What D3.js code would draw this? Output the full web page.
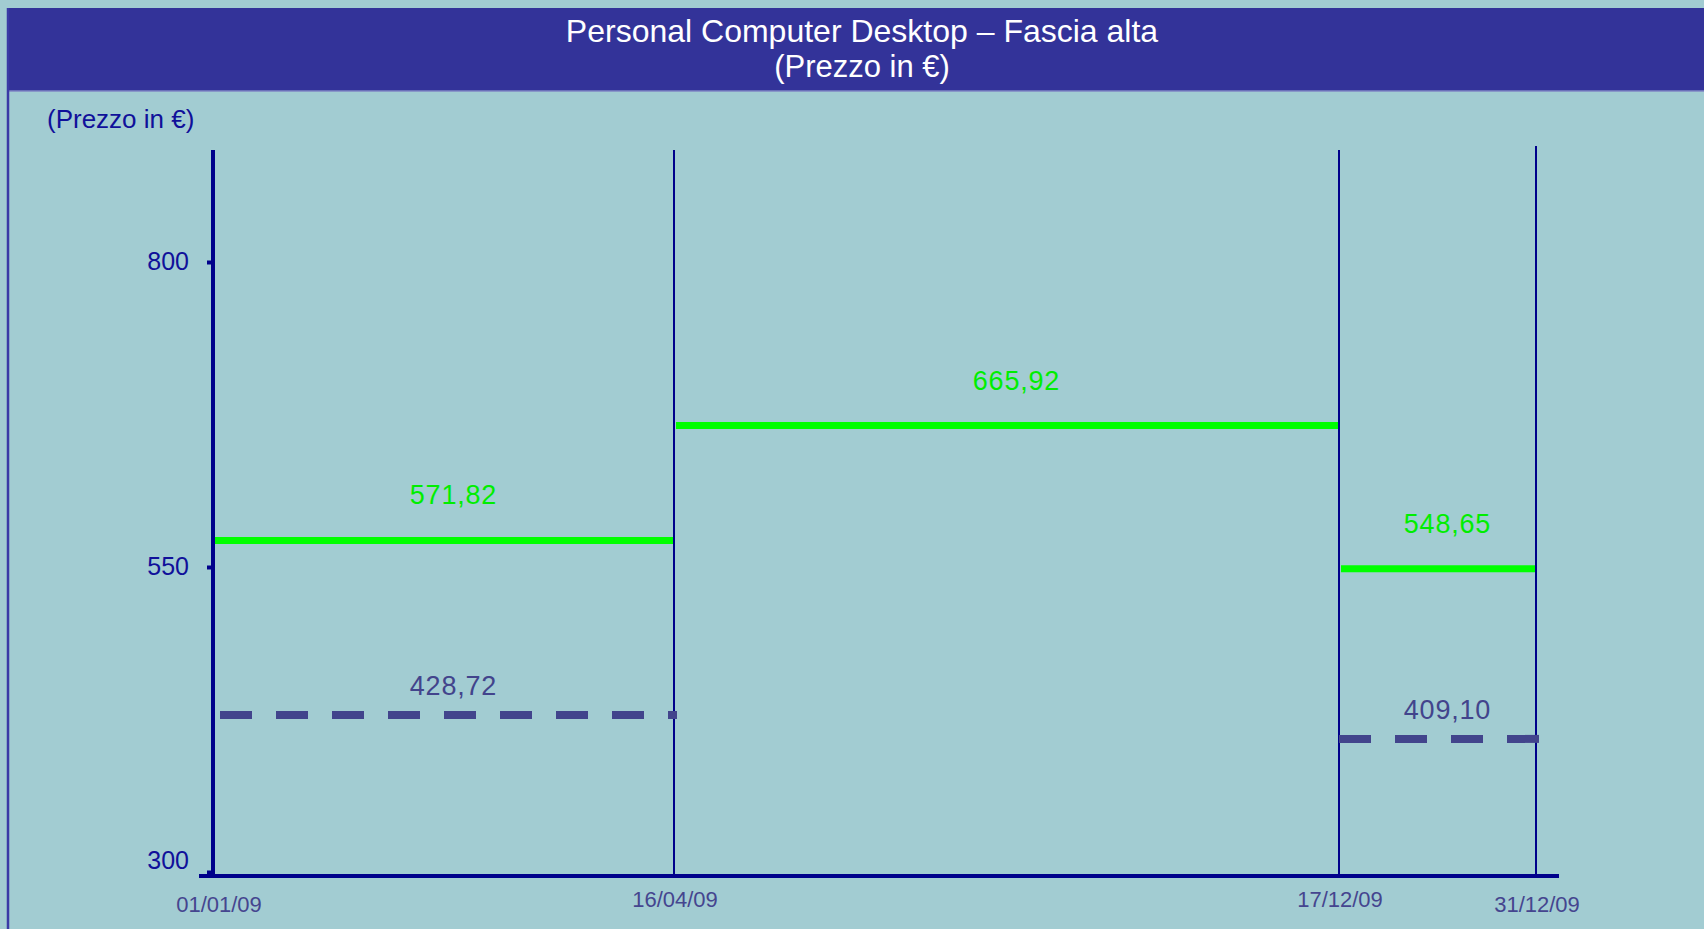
<!DOCTYPE html>
<html>
<head>
<meta charset="utf-8">
<script src="https://cdn.jsdelivr.net/npm/d3@7"></script>
<style>
  html, body { margin: 0; padding: 0; background: #a2ccd2; }
  svg { display: block; }
  text { font-family: "Liberation Sans", Arial, sans-serif; }
</style>
</head>
<body>
<svg id="chart" width="1704" height="929"></svg>
<script>
// ---- data ----
const titleText = "Personal Computer Desktop \u2013 Fascia alta";
const subtitleText = "(Prezzo in \u20AC)";
const yAxisLabel = "(Prezzo in \u20AC)";
const dateLabels = ["01/01/09", "16/04/09", "17/12/09", "31/12/09"];
const yTicks = [300, 550, 800];
// solid (green) series: one value per period between consecutive dates
const greenValues = [571.82, 665.92, 548.65];
// dashed series: null where no value for that period
const dashedValues = [428.72, null, 409.10];

const fmt = v => v.toFixed(2).replace(".", ",");
const parse = d3.timeParse("%d/%m/%y");
const dates = dateLabels.map(parse);

const W = 1704, H = 929;
const svg = d3.select("#chart");

// background
svg.append("rect").attr("x", 0).attr("y", 0).attr("width", W).attr("height", H).attr("fill", "#a2ccd2");
// header band
svg.append("rect").attr("x", 7).attr("y", 8).attr("width", W - 7).attr("height", 83).attr("fill", "#333399");
svg.append("line").attr("x1", 7).attr("x2", W).attr("y1", 91).attr("y2", 91).attr("stroke", "#7f86c4").attr("stroke-width", 1.5);
// left border
svg.append("line").attr("x1", 8).attr("x2", 8).attr("y1", 8).attr("y2", H).attr("stroke", "#3a3aa6").attr("stroke-width", 2.5);

svg.append("text").attr("x", 862).attr("y", 42).attr("text-anchor", "middle")
  .attr("fill", "#ffffff").attr("font-size", 32).text(titleText);
svg.append("text").attr("x", 862).attr("y", 77).attr("text-anchor", "middle")
  .attr("fill", "#ffffff").attr("font-size", 31).text(subtitleText);

svg.append("text").attr("x", 47).attr("y", 128)
  .attr("fill", "#10109a").attr("font-size", 26).text(yAxisLabel);

// ---- scales ----
// dates are spaced as in the original (non-proportional to time): piecewise time scale
const x = d3.scaleTime().domain(dates).range([213, 674, 1339, 1536]);
const y = d3.scaleLinear().domain([300, 800]).range([872, 262]);

const axisColor = "#00008b";
const plotTop = 150, plotBottom = 876;

// period vertical lines (after the first date)
svg.append("g").selectAll("line").data(dates.slice(1)).join("line")
  .attr("x1", d => x(d)).attr("x2", d => x(d))
  .attr("y1", (d, i) => i === dates.length - 2 ? plotTop - 4 : plotTop)
  .attr("y2", plotBottom)
  .attr("stroke", axisColor).attr("stroke-width", 2);

// y axis
const yAxis = d3.axisLeft(y).tickValues(yTicks).tickSize(6).tickFormat(d3.format("d"));
const gy = svg.append("g").attr("transform", `translate(${x(dates[0])},0)`).call(yAxis);
gy.select(".domain").remove();
gy.selectAll(".tick line").attr("stroke", axisColor).attr("stroke-width", 4);
gy.selectAll(".tick text").attr("fill", "#10109a").attr("font-size", 25)
  .attr("font-family", "Liberation Sans, Arial, sans-serif")
  .attr("x", -24)
  // the lowest label is lifted to clear the x axis
  .attr("dy", d => d === yTicks[0] ? "-0.15em" : "0.3em");
svg.append("line").attr("x1", x(dates[0])).attr("x2", x(dates[0]))
  .attr("y1", plotTop).attr("y2", plotBottom + 2)
  .attr("stroke", axisColor).attr("stroke-width", 4);

// x axis line
svg.append("line").attr("x1", 199).attr("x2", 1559)
  .attr("y1", plotBottom).attr("y2", plotBottom)
  .attr("stroke", axisColor).attr("stroke-width", 4);

// x labels
svg.append("g").selectAll("text").data(dates).join("text")
  .attr("x", (d, i) => x(d) + (i === 0 ? 6 : 1))
  .attr("y", (d, i) => (i === 0 || i === dates.length - 1) ? 912 : 907)
  .attr("text-anchor", "middle")
  .attr("fill", "#45458f").attr("font-size", 22)
  .text((d, i) => dateLabels[i]);

// periods
const periods = greenValues.map((v, i) => ({ x0: dates[i], x1: dates[i + 1], g: v, d: dashedValues[i] }));

// green solid lines
svg.append("g").selectAll("line").data(periods).join("line")
  .attr("x1", p => x(p.x0) + 2).attr("x2", p => x(p.x1) - 1)
  .attr("y1", p => y(p.g)).attr("y2", p => y(p.g))
  .attr("stroke", "#00ff00").attr("stroke-width", 7);

svg.append("g").selectAll("text").data(periods).join("text")
  .attr("x", p => (x(p.x0) + x(p.x1)) / 2 + 10)
  .attr("y", p => y(p.g) - 36)
  .attr("text-anchor", "middle").attr("fill", "#00ee00").attr("font-size", 27)
  .attr("letter-spacing", 0.8)
  .text(p => fmt(p.g));

// dashed lines
const dashed = periods.filter(p => p.d != null);
svg.append("g").selectAll("line").data(dashed).join("line")
  .attr("x1", p => Math.max(x(p.x0), x(dates[0]) + 7)).attr("x2", p => x(p.x1) + 3)
  .attr("y1", p => y(p.d)).attr("y2", p => y(p.d))
  .attr("stroke", "#42448c").attr("stroke-width", 8)
  .attr("stroke-dasharray", "32,24");

svg.append("g").selectAll("text").data(dashed).join("text")
  .attr("x", p => (x(p.x0) + x(p.x1)) / 2 + 10)
  .attr("y", p => y(p.d) - 20)
  .attr("text-anchor", "middle").attr("fill", "#42448c").attr("font-size", 27)
  .attr("letter-spacing", 0.8)
  .text(p => fmt(p.d));
</script>
</body>
</html>
